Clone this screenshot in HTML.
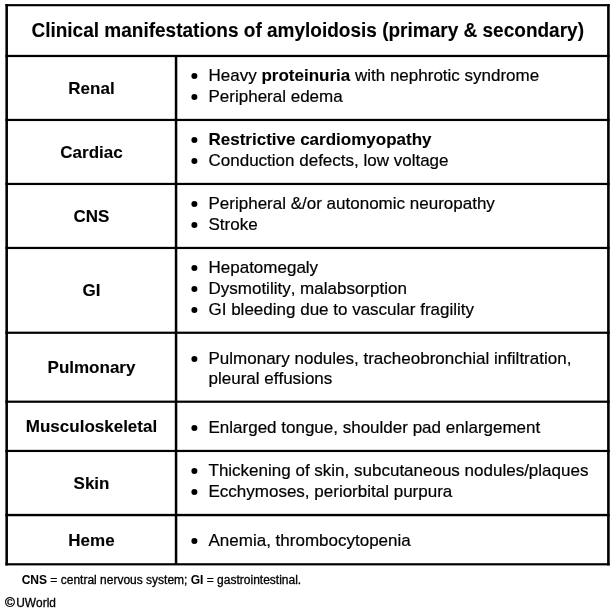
<!DOCTYPE html>
<html lang="en">
<head>
<meta charset="utf-8">
<title>Clinical manifestations of amyloidosis (primary &amp; secondary)</title>
<style>
html,body{margin:0;padding:0;background:#fff;}
body{width:614px;height:611px;overflow:hidden;}
svg{display:block;will-change:transform;}
text{font-family:"Liberation Sans",sans-serif;font-size:17px;font-kerning:none;fill:#000;stroke:#000;stroke-width:0.2px;}
.b{font-weight:bold;stroke-width:0.1px;}
.title{font-size:19.4px;font-weight:bold;text-anchor:middle;stroke-width:0.1px;}
.lab{font-weight:bold;text-anchor:middle;stroke-width:0.1px;}
.fn{font-size:12px;stroke-width:0.3px;}
.fn .b{stroke-width:0.05px;}
.cr{font-size:11.9px;stroke-width:0.3px;}
.cr .c{font-size:13.4px;stroke-width:0.4px;}
</style>
</head>
<body>
<svg width="614" height="611" viewBox="0 0 614 611" role="img" aria-label="Clinical manifestations of amyloidosis table">
<rect width="614" height="611" fill="#fff"/>
<g id="grid" fill="#000">
<rect x="5.4" y="4.1" width="604.3" height="2.15"/>
<rect x="5.4" y="54.85" width="604.3" height="2.25"/>
<rect x="5.4" y="118.85" width="604.3" height="2.2"/>
<rect x="5.4" y="182.85" width="604.3" height="2.2"/>
<rect x="5.4" y="246.85" width="604.3" height="2.2"/>
<rect x="5.4" y="331.65" width="604.3" height="2.2"/>
<rect x="5.4" y="400.6" width="604.3" height="2.2"/>
<rect x="5.4" y="449.85" width="604.3" height="2.2"/>
<rect x="5.4" y="513.85" width="604.3" height="2.4"/>
<rect x="5.4" y="563.2" width="604.3" height="2.2"/>
<rect x="5.4" y="4.1" width="2.55" height="561.3"/>
<rect x="607.1" y="4.1" width="2.6" height="561.3"/>
<rect x="174.8" y="55" width="2.5" height="510"/>
</g>
<text class="title" transform="translate(307.7,37) scale(0.9805,1)">Clinical manifestations of amyloidosis (primary &amp; secondary)</text>
<g class="row">
<text class="lab" x="91.5" y="94">Renal</text>
<circle cx="194.4" cy="75.9" r="3.0"/>
<text x="208.5" y="81">Heavy <tspan class="b">proteinuria</tspan> with nephrotic syndrome</text>
<circle cx="194.4" cy="96.9" r="3.0"/>
<text x="208.5" y="102">Peripheral edema</text>
</g>
<g class="row">
<text class="lab" x="91.5" y="158">Cardiac</text>
<circle cx="194.4" cy="139.9" r="3.0"/>
<text x="208.5" y="145"><tspan class="b">Restrictive cardiomyopathy</tspan></text>
<circle cx="194.4" cy="160.9" r="3.0"/>
<text x="208.5" y="166">Conduction defects, low voltage</text>
</g>
<g class="row">
<text class="lab" x="91.5" y="222">CNS</text>
<circle cx="194.4" cy="203.9" r="3.0"/>
<text x="208.5" y="209">Peripheral &amp;/or autonomic neuropathy</text>
<circle cx="194.4" cy="224.9" r="3.0"/>
<text x="208.5" y="230">Stroke</text>
</g>
<g class="row">
<text class="lab" x="91.5" y="296">GI</text>
<circle cx="194.4" cy="267.9" r="3.0"/>
<text x="208.5" y="273">Hepatomegaly</text>
<circle cx="194.4" cy="288.9" r="3.0"/>
<text x="208.5" y="294">Dysmotility, malabsorption</text>
<circle cx="194.4" cy="309.9" r="3.0"/>
<text x="208.5" y="315">GI bleeding due to vascular fragility</text>
</g>
<g class="row">
<text class="lab" x="91.5" y="373">Pulmonary</text>
<circle cx="194.4" cy="358.9" r="3.0"/>
<text x="208.5" y="364">Pulmonary nodules, tracheobronchial infiltration,</text>
<text x="208.5" y="384">pleural effusions</text>
</g>
<g class="row">
<text class="lab" x="91.5" y="432">Musculoskeletal</text>
<circle cx="194.4" cy="427.9" r="3.0"/>
<text x="208.5" y="433">Enlarged tongue, shoulder pad enlargement</text>
</g>
<g class="row">
<text class="lab" x="91.5" y="489">Skin</text>
<circle cx="194.4" cy="470.9" r="3.0"/>
<text x="208.5" y="476">Thickening of skin, subcutaneous nodules/plaques</text>
<circle cx="194.4" cy="491.9" r="3.0"/>
<text x="208.5" y="497">Ecchymoses, periorbital purpura</text>
</g>
<g class="row">
<text class="lab" x="91.5" y="546">Heme</text>
<circle cx="194.4" cy="540.9" r="3.0"/>
<text x="208.5" y="546">Anemia, thrombocytopenia</text>
</g>
<text class="fn" x="21.7" y="584"><tspan class="b">CNS</tspan> = central nervous system; <tspan class="b">GI</tspan> = gastrointestinal.</text>
<text class="cr" x="4.9" y="607"><tspan class="c">©</tspan><tspan dx="1.5">UWorld</tspan></text>
</svg>
</body>
</html>
